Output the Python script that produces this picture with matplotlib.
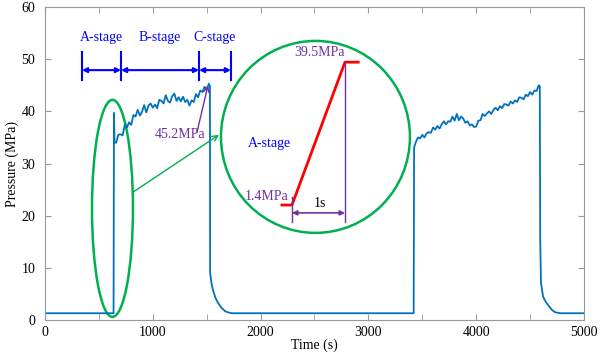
import numpy as np
import matplotlib.pyplot as plt
from matplotlib.patches import Ellipse

plt.rcParams['font.family'] = ['Liberation Serif', 'DejaVu Serif']
plt.rcParams['font.size'] = 10

# --- pressure trace ---
base = 1.3
t_start = [0, 300, 636, 640, 645]
p_start = [base, base, base, 39.7, 34.0]

t_plat1 = list(range(660, 1521, 20))
p_plat1 = [34.0, 35.5, 35.6, 35.4, 37.4, 36.9, 37.9, 37.4, 39.3, 39.0,
           40.3, 39.2, 39.9, 41.2, 39.8, 41.1, 41.5, 40.7, 41.3, 40.6,
           42.2, 42.0, 41.5, 43.1, 42.0, 41.7, 42.9, 43.4, 42.0, 42.7,
           41.9, 42.8, 41.8, 42.2, 41.1, 42.1, 41.8, 43.3, 42.7, 44.0,
           43.7, 44.7, 44.1, 45.3]

t_drop1 = [1530, 1532, 1545, 1558, 1580, 1605, 1635, 1670, 1700, 1735, 2000, 3000, 3420, 3424]
p_drop1 = [44.8, 9.0, 7.0, 5.8, 4.3, 3.3, 2.4, 1.7, 1.45, base, base, base, base, 33.1]

t_plat2 = list(range(3440, 4581, 20))
p_plat2 = [34.1, 35.0, 34.8, 35.5, 35.0, 35.8, 36.0, 35.9, 36.9, 36.5,
           37.2, 36.7, 37.5, 38.1, 37.5, 38.1, 38.0, 39.0, 38.2, 39.5,
           38.3, 39.0, 38.6, 37.8, 38.1, 37.3, 37.5, 37.0, 37.1, 38.2,
           38.3, 39.5, 39.1, 39.6, 40.0, 39.5, 40.3, 40.7, 40.2, 41.0,
           40.6, 41.4, 41.3, 41.1, 41.9, 41.5, 42.1, 41.8, 42.7, 42.6,
           42.3, 43.2, 42.9, 43.7, 43.2, 44.0, 43.9, 45.0]

t_drop2 = [4590, 4594, 4601, 4620, 4645, 4666, 4700, 4731, 4777, 5000]
p_drop2 = [44.8, 15.5, 7.2, 4.5, 3.5, 2.9, 2.0, 1.5, base, base]

time = np.array(t_start + t_plat1 + t_drop1 + t_plat2 + t_drop2)
pressure = np.array(p_start + p_plat1 + p_drop1 + p_plat2 + p_drop2)

# stage boundaries (s) and names
stage_edges = [343, 705, 1429, 1725]
stage_names = ['A-stage', 'B-stage', 'C-stage']

# A-stage zoom schematic
zoom_t = [-0.19, 0, 1, 1.25]
zoom_p = [1.4, 1.4, 39.5, 39.5]

blue = '#0000FF'
purple = '#7030A0'
green = '#00B050'
gray = '0.6'

fig = plt.figure(figsize=(6, 3.54), dpi=100)
ax = fig.add_axes([0.075, 0.096, 0.8983, 0.8842])
ax.plot(time, pressure, color='#0072BD', lw=1.3)
ax.set_xlim(0, 5000)
ax.set_ylim(0, 60)
ax.set_xticks(range(0, 5001, 1000))
ax.set_xticks(range(500, 5000, 1000), minor=True)
ax.set_yticks(range(0, 61, 10))
ax.tick_params(which='both', direction='in', top=True, right=True, length=4,
               color=gray, labelsize=10)
ax.tick_params(axis='y', pad=7)
ax.tick_params(axis='x', pad=4)
for s in ax.spines.values():
    s.set_color(gray)
ax.set_xlabel('Time (s)', fontsize=10, labelpad=0)
ax.set_ylabel('Pressure (MPa)', fontsize=10, labelpad=2)

# stage markers
for e in stage_edges:
    ax.plot([e, e], [46.0, 51.4], color=blue, lw=1.5)
for i, name in enumerate(stage_names):
    a, b = stage_edges[i], stage_edges[i + 1]
    ax.annotate('', xy=(a, 47.9), xytext=(b, 47.9),
                arrowprops=dict(arrowstyle='<|-|>', color=blue, lw=1.5,
                                mutation_scale=7, shrinkA=0, shrinkB=0))
    ax.text((a + b) / 2, 54.2, name, color=blue, ha='center', va='center', fontsize=10)

# peak annotation
ax.annotate('', xy=(1512, 45.0), xytext=(1410, 36.0),
            arrowprops=dict(arrowstyle='->', color=purple, lw=1, shrinkA=0, shrinkB=0))
ax.text(1252, 35.5, '45.2MPa', color=purple, ha='center', va='center', fontsize=10)

# green highlight ellipses and link
ax.add_patch(Ellipse((626, 21.4), 380, 41.6, fill=False, ec=green, lw=1.8))
ax.add_patch(Ellipse((2509, 35.1), 1753, 36.8, fill=False, ec=green, lw=1.8))
ax.annotate('', xy=(1614, 35.5), xytext=(816, 24.5),
            arrowprops=dict(arrowstyle='->', color=green, lw=1, shrinkA=0, shrinkB=0))

# inset schematic
ins = fig.add_axes([0.3983, 0.3213, 0.265, 0.5614])
ins.set_xlim(-1, 2)
ins.set_ylim(-8, 45)
ins.axis('off')
ins.plot(zoom_t, zoom_p, color='red', lw=2)
ins.plot([0, 0], [-3.1, 3.5], color=purple, lw=1)
ins.plot([1, 1], [-3.1, 39.5], color=purple, lw=1)
ins.annotate('', xy=(0, -0.7), xytext=(1, -0.7),
             arrowprops=dict(arrowstyle='<|-|>', color=purple, lw=1.2,
                             mutation_scale=7, shrinkA=0, shrinkB=0))
ins.text(0.53, 1.9, '1s', ha='center', va='center', fontsize=10)
ins.text(-0.06, 3.8, '1.4MPa', color=purple, ha='right', va='center', fontsize=10)
ins.text(0.51, 42.2, '39.5MPa', color=purple, ha='center', va='center', fontsize=10)
ins.text(-0.43, 17.7, 'A-stage', color=blue, ha='center', va='center', fontsize=10)

fig.savefig('out.png', dpi=100)
